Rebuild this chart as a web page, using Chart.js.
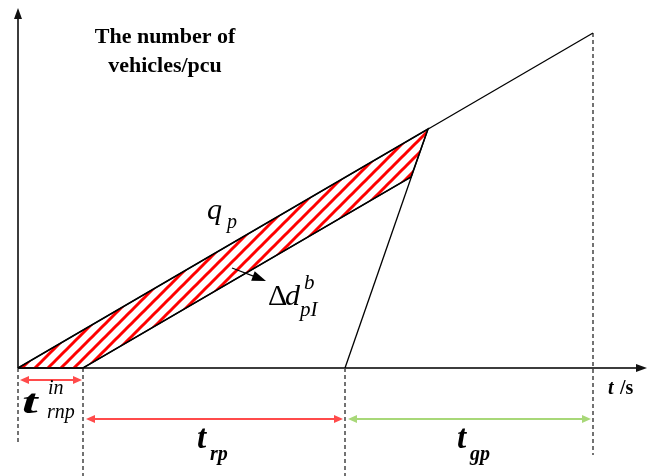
<!DOCTYPE html>
<html>
<head>
<meta charset="utf-8">
<title>Cola en el acceso</title>
<script src="https://cdn.jsdelivr.net/npm/chart.js@4.4.1/dist/chart.umd.min.js"></script>
<style>
    html, body { margin: 0; padding: 0; background: #fff; }
    #contenedor { width: 648px; height: 476px; position: relative; }
</style>
</head>
<body>
<div id="contenedor"><canvas id="grafica"></canvas></div>
<script>
// curva de llegadas acumuladas (q_p)
const tLlegada = [0, 575];
const nLlegada = [0, 335];
// curva de salidas durante el rojo
const tSalida = [65, 393];
const nSalida = [0, 191];
// descarga al iniciar el verde
const tDescarga = [327, 410];
const nDescarga = [0, 239];
// zona rayada (demora Δd)
const tZona = [0, 410, 393, 65, 0];
const nZona = [0, 239, 191, 0, 0];
// cortes verticales punteados
const tCortes = [0, 65, 327, 575];
const nTopes = [0, 0, 0, 335];
const nFondos = [-74, -108, -108, -87];

function puntos(xs, ys) {
    return xs.map((x, i) => ({ x: x, y: ys[i] }));
}

// patrón de rayas rojas a 45° (las líneas salen del mosaico para no dejar cortes)
function patronRayas() {
    const s = 13;
    const c = document.createElement('canvas');
    c.width = s;
    c.height = s;
    const g = c.getContext('2d');
    g.strokeStyle = '#ff0000';
    g.lineWidth = 3;
    g.lineCap = 'square';
    [-s, 0, s].forEach(k => {
        g.beginPath();
        g.moveTo(k - 4, s + 4);
        g.lineTo(k + s + 4, -4);
        g.stroke();
    });
    return g.createPattern(c, 'repeat');
}

const datasets = [];

datasets.push({
    data: puntos(tZona, nZona),
    showLine: true,
    borderColor: '#000',
    borderWidth: 1.5,
    backgroundColor: patronRayas(),
    fill: 'shape',
    pointRadius: 0,
    tension: 0
});

[[tLlegada, nLlegada], [tSalida, nSalida], [tDescarga, nDescarga]].forEach(par => {
    datasets.push({
        data: puntos(par[0], par[1]),
        showLine: true,
        borderColor: '#000',
        borderWidth: 1.3,
        pointRadius: 0,
        fill: false
    });
});

tCortes.forEach((t, i) => {
    datasets.push({
        data: [{ x: t, y: nTopes[i] }, { x: t, y: nFondos[i] }],
        showLine: true,
        borderColor: '#444',
        borderWidth: 1.5,
        borderDash: [4, 3],
        pointRadius: 0,
        fill: false
    });
});

// cotas con flechas dobles
const cotas = [
    { desde: 2, hasta: 64, nivel: -12, color: '#ff4b4b' },
    { desde: 68, hasta: 325, nivel: -51, color: '#ff4b4b' },
    { desde: 330, hasta: 573, nivel: -51, color: '#a8d878' }
];

// textos (posición en unidades de los ejes); e = estiramiento horizontal
const textos = [
    { t: 'The number of', x: 147, y: 325, f: 'bold 22px "Liberation Serif"', a: 'center' },
    { t: 'vehicles/pcu', x: 147, y: 296, f: 'bold 22px "Liberation Serif"', a: 'center' },
    { t: 't', x: 590, y: -26, f: 'italic bold 20px "Liberation Serif"' },
    { t: ' /s', x: 597, y: -26, f: 'bold 20px "Liberation Serif"' },
    { t: 'q', x: 189, y: 149, f: 'italic 30px "Liberation Serif"' },
    { t: 'p', x: 209, y: 140, f: 'italic 20px "Liberation Serif"' },
    { t: 'Δ', x: 250, y: 63, f: '30px "Liberation Serif"' },
    { t: 'd', x: 267, y: 63, f: 'italic 30px "Liberation Serif"' },
    { t: 'b', x: 286, y: 79, f: 'italic 21px "Liberation Serif"' },
    { t: 'pI', x: 282, y: 52, f: 'italic 21px "Liberation Serif"' },
    { t: 't', x: 4, y: -45, f: 'italic bold 33px "Liberation Serif"', e: 1.7 },
    { t: 'in', x: 30, y: -26, f: 'italic 20px "Liberation Serif"' },
    { t: 'rnp', x: 29, y: -50, f: 'italic 20px "Liberation Serif"' },
    { t: 't', x: 179, y: -80, f: 'italic bold 33px "Liberation Serif"' },
    { t: 'rp', x: 192, y: -92, f: 'italic bold 20px "Liberation Serif"' },
    { t: 't', x: 439, y: -80, f: 'italic bold 33px "Liberation Serif"' },
    { t: 'gp', x: 452, y: -92, f: 'italic bold 20px "Liberation Serif"' }
];

function punta(ctx, x, y, ang, largo, ancho) {
    ctx.save();
    ctx.translate(x, y);
    ctx.rotate(ang);
    ctx.beginPath();
    ctx.moveTo(0, 0);
    ctx.lineTo(-largo, -ancho / 2);
    ctx.lineTo(-largo, ancho / 2);
    ctx.closePath();
    ctx.fill();
    ctx.restore();
}

const ejesPlugin = {
    id: 'ejes',
    beforeDatasetsDraw(chart) {
        const ctx = chart.ctx;
        const sx = chart.scales.x, sy = chart.scales.y;
        const x0 = sx.getPixelForValue(0), y0 = sy.getPixelForValue(0);
        const yTop = sy.getPixelForValue(360), xFin = sx.getPixelForValue(629);
        ctx.save();
        ctx.strokeStyle = '#3c3c3c';
        ctx.fillStyle = '#111';
        ctx.lineWidth = 2;
        ctx.beginPath();
        ctx.moveTo(x0, y0);
        ctx.lineTo(x0, yTop + 8);
        ctx.moveTo(x0, y0);
        ctx.lineTo(xFin - 8, y0);
        ctx.stroke();
        punta(ctx, x0, yTop, -Math.PI / 2, 11, 8);
        punta(ctx, xFin, y0, 0, 11, 8);
        ctx.restore();
    },
    afterDatasetsDraw(chart) {
        const ctx = chart.ctx;
        const sx = chart.scales.x, sy = chart.scales.y;
        ctx.save();
        // cotas
        cotas.forEach(c => {
            const xa = sx.getPixelForValue(c.desde), xb = sx.getPixelForValue(c.hasta);
            const y = sy.getPixelForValue(c.nivel);
            ctx.strokeStyle = c.color;
            ctx.fillStyle = c.color;
            ctx.lineWidth = 2;
            ctx.beginPath();
            ctx.moveTo(xa + 6, y);
            ctx.lineTo(xb - 6, y);
            ctx.stroke();
            punta(ctx, xa, y, Math.PI, 9, 8);
            punta(ctx, xb, y, 0, 9, 8);
        });
        // flecha hacia Δd
        const fx0 = sx.getPixelForValue(214), fy0 = sy.getPixelForValue(100);
        const fx1 = sx.getPixelForValue(248), fy1 = sy.getPixelForValue(87);
        const ang = Math.atan2(fy1 - fy0, fx1 - fx0);
        ctx.strokeStyle = '#000';
        ctx.fillStyle = '#000';
        ctx.lineWidth = 1.3;
        ctx.beginPath();
        ctx.moveTo(fx0, fy0);
        ctx.lineTo(fx1 - 10 * Math.cos(ang), fy1 - 10 * Math.sin(ang));
        ctx.stroke();
        punta(ctx, fx1, fy1, ang, 14, 10);
        // textos
        ctx.fillStyle = '#000';
        ctx.textBaseline = 'alphabetic';
        textos.forEach(r => {
            ctx.save();
            ctx.font = r.f;
            ctx.textAlign = r.a || 'left';
            ctx.translate(sx.getPixelForValue(r.x), sy.getPixelForValue(r.y));
            ctx.scale(r.e || 1, 1);
            ctx.fillText(r.t, 0, 0);
            ctx.restore();
        });
        ctx.restore();
    }
};

new Chart(document.getElementById('grafica'), {
    type: 'scatter',
    data: { datasets: datasets },
    options: {
        responsive: true,
        maintainAspectRatio: false,
        animation: false,
        layout: { padding: 0 },
        plugins: {
            legend: { display: false },
            tooltip: { enabled: false }
        },
        scales: {
            x: { type: 'linear', min: -18, max: 630, display: false },
            y: { type: 'linear', min: -108, max: 368, display: false }
        }
    },
    plugins: [ejesPlugin]
});
</script>
</body>
</html>
